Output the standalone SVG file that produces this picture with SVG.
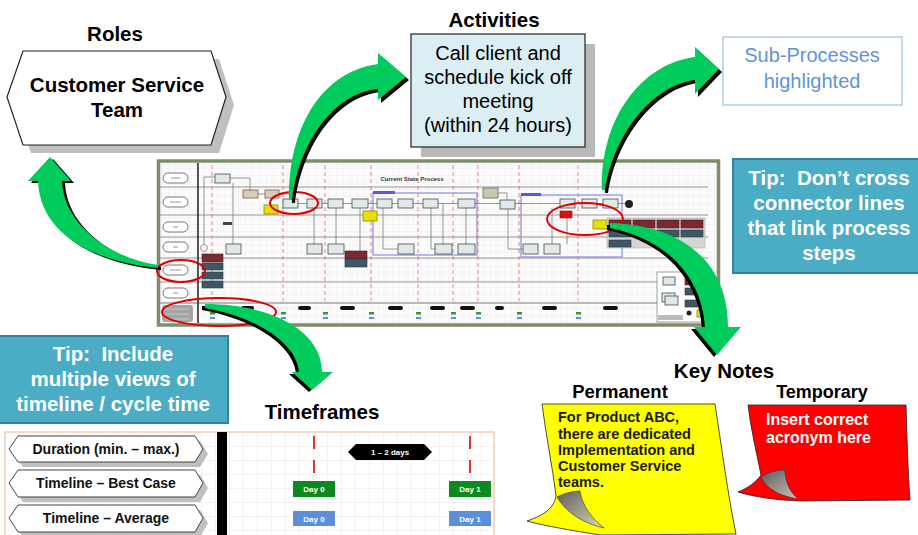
<svg xmlns="http://www.w3.org/2000/svg" width="918" height="535" viewBox="0 0 918 535">
  <style>
    text { font-family: "Liberation Sans", Arial, sans-serif; }
    .hdr { font-weight: bold; font-size: 20.5px; fill: #000; text-anchor: middle; }
    .act { font-size: 20px; fill: #000; text-anchor: middle; }
    .sub { font-size: 20px; fill: #5f93da; text-anchor: middle; }
    .tip { font-weight: bold; font-size: 20.5px; fill: #fff; text-anchor: middle; }
    .tipbox { fill: #4bacc6; stroke: #31849b; stroke-width: 2; }
    .hexlbl { font-weight: bold; font-size: 14px; fill: #111; text-anchor: middle; }
    .hexshape { fill: #fff; stroke: #444; stroke-width: 1; }
    .hexshadow { fill: #bfbfbf; }
    .day { font-weight: bold; font-size: 8px; fill: #fff; text-anchor: middle; }
    .perm { font-weight: bold; font-size: 14.5px; fill: #1a1a1a; }
    .temp { font-weight: bold; font-size: 16px; fill: #fff; }
    .arrow { fill: #00cc5c; }
    .arrow-sh { fill: #000; }
    .ring { fill: none; stroke: #e00000; stroke-width: 2; }
    .lane { stroke: #8a8a8a; stroke-width: 0.9; }
    .due { stroke: #e06464; stroke-width: 0.8; stroke-dasharray: 4 3; }
    .step { fill: #e2e8e8; stroke: #3f4f4f; stroke-width: 0.8; }
    .tan { fill: #dccbbb; stroke: #7a5a4a; stroke-width: 0.8; }
    .note { fill: #e8e000; stroke: #8a8a00; stroke-width: 0.8; }
    .dred { fill: #7c2a32; stroke: #4e1a1e; stroke-width: 0.6; }
    .dteal { fill: #3c5864; stroke: #25363e; stroke-width: 0.6; }
    .flow { fill: none; stroke: #6a6a6a; stroke-width: 0.7; }
    .pill { fill: #fff; stroke: #555; stroke-width: 0.8; }
    .blip { fill: #111; }
    .gmark { fill: #2e9a3a; }
    .bmark { fill: #5b8fd8; }
    .sub-box { fill: none; stroke: #8a8ae6; stroke-width: 1.2; }
  </style>
  <defs>
    <pattern id="mapGrid" width="7" height="7" patternUnits="userSpaceOnUse">
      <path d="M7 0 L0 0 0 7" fill="none" stroke="#e2e2e2" stroke-width="0.6"/>
    </pattern>
    <pattern id="tfGrid" width="14" height="14" patternUnits="userSpaceOnUse" x="5" y="432">
      <path d="M14 0 L0 0 0 14" fill="none" stroke="#e0e0e0" stroke-width="0.8"/>
    </pattern>
    <linearGradient id="foldY" x1="0" y1="0" x2="1" y2="1">
      <stop offset="0" stop-color="#5e5e5e"/>
      <stop offset="1" stop-color="#d8d8b8"/>
    </linearGradient>
    <linearGradient id="foldR" x1="0" y1="0" x2="1" y2="1">
      <stop offset="0" stop-color="#5a5a5a"/>
      <stop offset="1" stop-color="#d0c0c0"/>
    </linearGradient>
  </defs>

  <rect width="918" height="535" fill="#fff"/>

  <!-- Role -->
  <g id="role-node">
    <text class="hdr" x="115" y="41">Roles</text>
    <polygon class="hexshadow" points="15,105 31,59 219,59 234,105 219,153 31,153"/>
    <polygon fill="#fff" stroke="#222" stroke-width="1.2" points="7,97 23,51 211,51 226,97 211,145 23,145"/>
    <text class="hdr" x="117" y="92">Customer Service</text>
    <text class="hdr" x="117" y="117">Team</text>
  </g>

  <!-- Activity -->
  <g id="activity-node">
    <text class="hdr" x="494" y="27">Activities</text>
    <rect x="421" y="44" width="174" height="113" fill="#b8b8b8"/>
    <rect x="411" y="34" width="174" height="113" fill="#dbeef4" stroke="#222" stroke-width="1.2"/>
    <text class="act" x="498" y="60">Call client and</text>
    <text class="act" x="498" y="84">schedule kick off</text>
    <text class="act" x="498" y="108">meeting</text>
    <text class="act" x="498" y="132">(within 24 hours)</text>
  </g>

  <!-- Sub-process callout -->
  <g id="subprocess-node">
    <rect x="723" y="37" width="179" height="68" fill="#fff" stroke="#b6cdee" stroke-width="1.6"/>
    <text class="sub" x="812" y="62">Sub-Processes</text>
    <text class="sub" x="812" y="88">highlighted</text>
  </g>

  <!-- Tips -->
  <g id="tip-connectors">
    <rect class="tipbox" x="733" y="159" width="186" height="114"/>
    <text class="tip" x="829" y="185">Tip:&#160; Don’t cross</text>
    <text class="tip" x="829" y="210">connector lines</text>
    <text class="tip" x="829" y="235">that link process</text>
    <text class="tip" x="829" y="260">steps</text>
  </g>
  <g id="tip-timeline">
    <rect class="tipbox" x="-2" y="336" width="230" height="87"/>
    <text class="tip" x="113" y="361">Tip:&#160; Include</text>
    <text class="tip" x="113" y="386">multiple views of</text>
    <text class="tip" x="113" y="411">timeline / cycle time</text>
  </g>

  <!-- Process map thumbnail -->
  <g id="process-map">
    <rect x="158.5" y="161" width="560" height="164" fill="#fbfbfb"/>
    <rect x="158.5" y="161" width="560" height="164" fill="url(#mapGrid)"/>
    <text x="412" y="181" font-size="6px" font-weight="bold" fill="#333" text-anchor="middle">Current State Process</text>
    <!-- lanes -->
    <g>
      <line class="lane" x1="160" y1="187" x2="708" y2="187"/>
      <line class="lane" x1="160" y1="215" x2="708" y2="215"/>
      <line class="lane" x1="160" y1="237" x2="708" y2="237"/>
      <line class="lane" x1="160" y1="258" x2="708" y2="258"/>
      <line class="lane" x1="160" y1="282" x2="708" y2="282"/>
      <line x1="160" y1="303" x2="716" y2="303" stroke="#777" stroke-width="1"/>
      <line x1="198" y1="163" x2="198" y2="323" stroke="#111" stroke-width="1.4"/>
    </g>
    <!-- lane labels -->
    <g>
      <rect class="pill" x="163" y="173" width="25" height="10" rx="5"/>
      <rect class="pill" x="163" y="197" width="25" height="10" rx="5"/>
      <rect class="pill" x="163" y="222" width="25" height="10" rx="5"/>
      <rect class="pill" x="163" y="242" width="25" height="10" rx="5"/>
      <rect class="pill" x="163" y="265" width="25" height="10" rx="5"/>
      <rect class="pill" x="163" y="288" width="25" height="10" rx="5"/>
      <path d="M171 178h9M170 202h11M173 227h5M173 247h5M170 270h11M173 293h5" stroke="#999" stroke-width="1.2"/>
      <rect x="162" y="305" width="31" height="17" rx="3" fill="#a4a4a4"/>
      <path d="M165 309h24M165 314h24M165 319h24" stroke="#c8c8c8" stroke-width="1"/>
    </g>
    <!-- due-date markers -->
    <g>
      <line class="due" x1="212" y1="165" x2="212" y2="301"/>
      <line class="due" x1="283" y1="165" x2="283" y2="301"/>
      <line class="due" x1="325" y1="165" x2="325" y2="301"/>
      <line class="due" x1="371" y1="165" x2="371" y2="301"/>
      <line class="due" x1="418" y1="165" x2="418" y2="301"/>
      <line class="due" x1="453" y1="165" x2="453" y2="301"/>
      <line class="due" x1="478" y1="165" x2="478" y2="301"/>
      <line class="due" x1="519" y1="165" x2="519" y2="301"/>
      <line class="due" x1="578" y1="165" x2="578" y2="301"/>
    </g>
    <!-- sub-process frames -->
    <rect class="sub-box" x="373" y="193" width="104" height="62"/>
    <rect x="373" y="191" width="22" height="3" fill="#5a5ae0"/>
    <rect class="sub-box" x="521" y="195" width="101" height="62"/>
    <rect x="521" y="193" width="20" height="3" fill="#5a5ae0"/>
    <!-- flow lines -->
    <path class="flow" d="M204 177H215M204 177V244.5M233 183V244M230 178H250V190M258 194H265M279 194H290V199M298 203.5H629M314 208V244M336 208V244M360 208V251M383 208V249H398M431 208V249H435M443 203V250M466 208V244M490 193H507V200M508 208V249H523M552 208V244M567 218V244"/>
    <!-- steps -->
    <g>
      <rect class="step" x="215" y="174" width="15" height="9"/>
      <rect class="tan" x="243" y="190" width="15" height="8"/>
      <rect class="tan" x="265" y="190" width="14" height="8"/>
      <rect class="step" x="283" y="199" width="15" height="9"/>
      <rect class="step" x="307" y="199" width="15" height="9"/>
      <rect class="step" x="328" y="199" width="15" height="9"/>
      <rect class="step" x="352" y="199" width="16" height="9"/>
      <rect class="step" x="377" y="199" width="15" height="9"/>
      <rect class="step" x="398" y="199" width="15" height="9"/>
      <rect class="step" x="423" y="199" width="15" height="9"/>
      <rect class="step" x="458" y="199" width="17" height="9"/>
      <rect x="483" y="188" width="15" height="10" fill="#c9c9b0" stroke="#6a6a50" stroke-width="0.8"/>
      <rect class="step" x="500" y="200" width="15" height="9"/>
      <rect class="step" x="560" y="199" width="15" height="9"/>
      <rect class="step" x="582" y="199" width="15" height="9"/>
      <rect class="step" x="603" y="199" width="15" height="9"/>
      <circle cx="629" cy="204" r="4" fill="#222"/>
      <rect x="223" y="222" width="9" height="3" fill="#444"/>
      <rect class="step" x="226" y="244" width="15" height="10"/>
      <rect class="step" x="307" y="244" width="15" height="10"/>
      <rect class="step" x="328" y="244" width="16" height="10"/>
      <rect class="step" x="398" y="244" width="16" height="10"/>
      <rect class="step" x="435" y="244" width="17" height="10"/>
      <rect class="step" x="458" y="244" width="17" height="10"/>
      <rect class="step" x="523" y="244" width="15" height="10"/>
      <rect class="step" x="544" y="244" width="16" height="10"/>
      <circle cx="204" cy="248" r="3.5" fill="#fff" stroke="#a07090" stroke-width="0.8"/>
      <rect class="note" x="264" y="205" width="14" height="9"/>
      <rect class="note" x="363" y="211" width="14" height="10"/>
      <rect x="560" y="211" width="12" height="7" fill="#e01010" stroke="#900" stroke-width="0.6"/>
      <rect class="note" x="593" y="220" width="14" height="9"/>
      <rect class="dred" x="202" y="254" width="21" height="8"/>
      <rect class="dteal" x="202" y="263" width="21" height="7"/>
      <rect class="dteal" x="202" y="272" width="21" height="7"/>
      <rect class="dteal" x="202" y="281" width="21" height="7"/>
      <rect class="dred" x="345" y="251" width="22" height="8"/>
      <rect class="dteal" x="345" y="259" width="22" height="8"/>
    </g>
    <!-- notes legend -->
    <g>
      <rect x="607" y="218" width="98" height="30" fill="#d4d4d4" stroke="#aaa" stroke-width="0.6"/>
      <rect class="dred" x="609" y="220" width="22" height="8"/>
      <rect class="dred" x="633" y="220" width="22" height="8"/>
      <rect class="dred" x="657" y="220" width="22" height="8"/>
      <rect class="dred" x="681" y="220" width="22" height="8"/>
      <rect class="dteal" x="609" y="230" width="22" height="7"/>
      <rect class="dteal" x="633" y="230" width="22" height="7"/>
      <rect class="dteal" x="657" y="230" width="22" height="7"/>
      <rect class="dteal" x="681" y="230" width="22" height="7"/>
      <rect class="dteal" x="609" y="240" width="22" height="7"/>
    </g>
    <!-- symbol legend -->
    <g>
      <rect x="657" y="272" width="51" height="50" fill="#fff" stroke="#888" stroke-width="0.8"/>
      <rect class="step" x="663" y="277" width="12" height="8"/>
      <rect class="step" x="662" y="293" width="13" height="9"/>
      <rect class="step" x="665" y="296" width="13" height="9"/>
      <rect class="dred" x="685" y="277" width="22" height="8"/>
      <rect class="dteal" x="685" y="288" width="22" height="7"/>
      <rect class="dteal" x="685" y="300" width="22" height="7"/>
      <circle cx="689" cy="313" r="2.5" fill="#222"/>
      <rect class="note" x="697" y="310" width="10" height="7"/>
      <rect x="658" y="315" width="25" height="5" fill="#bbb"/>
    </g>
    <!-- timeline row -->
    <g>
      <rect class="blip" x="241" y="306" width="13" height="4" rx="2"/>
      <rect class="blip" x="298" y="306" width="13" height="4" rx="2"/>
      <rect class="blip" x="340" y="306" width="15" height="4" rx="2"/>
      <rect class="blip" x="388" y="306" width="15" height="4" rx="2"/>
      <rect class="blip" x="430" y="306" width="15" height="4" rx="2"/>
      <rect class="blip" x="460" y="306" width="15" height="4" rx="2"/>
      <rect class="blip" x="495" y="306" width="9" height="4" rx="2"/>
      <rect class="blip" x="542" y="306" width="15" height="4" rx="2"/>
      <rect class="blip" x="603" y="306" width="15" height="4" rx="2"/>
      <g>
        <rect class="gmark" x="210" y="312" width="5" height="2.5"/><rect class="bmark" x="210" y="317" width="5" height="2"/>
        <rect class="gmark" x="281" y="312" width="5" height="2.5"/><rect class="bmark" x="281" y="317" width="5" height="2"/>
        <rect class="gmark" x="323" y="312" width="5" height="2.5"/><rect class="bmark" x="323" y="317" width="5" height="2"/>
        <rect class="gmark" x="369" y="312" width="5" height="2.5"/><rect class="bmark" x="369" y="317" width="5" height="2"/>
        <rect class="gmark" x="416" y="312" width="5" height="2.5"/><rect class="bmark" x="416" y="317" width="5" height="2"/>
        <rect class="gmark" x="451" y="312" width="5" height="2.5"/><rect class="bmark" x="451" y="317" width="5" height="2"/>
        <rect class="gmark" x="476" y="312" width="5" height="2.5"/><rect class="bmark" x="476" y="317" width="5" height="2"/>
        <rect class="gmark" x="517" y="312" width="5" height="2.5"/><rect class="bmark" x="517" y="317" width="5" height="2"/>
        <rect class="gmark" x="576" y="312" width="5" height="2.5"/><rect class="bmark" x="576" y="317" width="5" height="2"/>
      </g>
    </g>
    <rect x="158.5" y="161" width="560" height="164" fill="none" stroke="#7e8d6c" stroke-width="3.5"/>
  </g>

  <!-- Highlight rings -->
  <g id="highlights">
    <ellipse class="ring" cx="294" cy="203" rx="24" ry="11"/>
    <ellipse class="ring" cx="181" cy="271" rx="24" ry="11"/>
    <ellipse class="ring" cx="219" cy="312" rx="57" ry="14"/>
    <ellipse class="ring" cx="585" cy="219" rx="38" ry="16"/>
  </g>

  <!-- Timeframes -->
  <g id="timeframes">
    <text class="hdr" x="322" y="419">Timeframes</text>
    <rect x="5" y="432" width="489" height="106" fill="#fff" stroke="#f6bf98" stroke-width="1.2"/>
    <rect x="5.6" y="432.6" width="488" height="105" fill="url(#tfGrid)"/>
    <rect x="217" y="432" width="10" height="106" fill="#000"/>
    <g>
      <polygon class="hexshadow" points="14,454 23,441 200,441 208,454 200,467 23,467"/>
      <polygon class="hexshape" points="9,449 18,436 195,436 203,449 195,462 18,462"/>
      <text class="hexlbl" x="106" y="454">Duration (min. – max.)</text>
      <polygon class="hexshadow" points="14,488 23,475 200,475 208,488 200,502 23,502"/>
      <polygon class="hexshape" points="9,483 18,470 195,470 203,483 195,497 18,497"/>
      <text class="hexlbl" x="106" y="488">Timeline – Best Case</text>
      <polygon class="hexshadow" points="14,523 23,510 200,510 208,523 200,537 23,537"/>
      <polygon class="hexshape" points="9,518 18,505 195,505 203,518 195,532 18,532"/>
      <text class="hexlbl" x="106" y="523">Timeline – Average</text>
    </g>
    <g>
      <path d="M314 436V449M314 460V473M470 436V449M470 460V473" stroke="#e03030" stroke-width="2"/>
      <polygon points="348,452 356,444 424,444 432,452 424,460 356,460" fill="#000"/>
      <text x="390" y="455" font-size="8px" font-weight="bold" fill="#fff" text-anchor="middle">1 – 2 days</text>
      <rect x="293" y="481" width="42" height="16" fill="#0b8a1f"/>
      <text class="day" x="314" y="492">Day 0</text>
      <rect x="449" y="481" width="42" height="16" fill="#0b8a1f"/>
      <text class="day" x="470" y="492">Day 1</text>
      <rect x="293" y="511" width="42" height="15" fill="#5b8fd8"/>
      <text class="day" x="314" y="521.5">Day 0</text>
      <rect x="449" y="511" width="42" height="15" fill="#5b8fd8"/>
      <text class="day" x="470" y="521.5">Day 1</text>
    </g>
  </g>

  <!-- Key notes -->
  <g id="key-notes">
    <text class="hdr" x="724" y="378">Key Notes</text>
    <g id="permanent-note">
      <text x="620" y="398" font-size="18.5px" font-weight="bold" text-anchor="middle">Permanent</text>
      <path d="M542 404L715 404C722 450 728 495 736 534L600 535C575 531 545 526 527 521C545 515 555 507 556 495C552 465 546 435 542 404Z" fill="#ffff00" stroke="#222" stroke-width="0.8"/>
      <path d="M557 497C565 493 574 491 580 491C582 505 592 519 604 528C585 524 566 513 557 497Z" fill="url(#foldY)" stroke="#333" stroke-width="0.6"/>
      <text class="perm" x="558" y="422">For Product ABC,</text>
      <text class="perm" x="558" y="439">there are dedicated</text>
      <text class="perm" x="558" y="455">Implementation and</text>
      <text class="perm" x="558" y="471">Customer Service</text>
      <text class="perm" x="558" y="487">teams.</text>
    </g>
    <g id="temporary-note">
      <text x="822" y="398" font-size="18px" font-weight="bold" text-anchor="middle">Temporary</text>
      <path d="M748 405L906 405C907 440 908 470 910 500L800 501C775 500 755 497 738 492C748 488 756 482 761 475C756 450 751 430 748 405Z" fill="#ff0000" stroke="#222" stroke-width="0.8"/>
      <path d="M761 477C768 472 777 470 785 470C785 482 790 492 798 499C780 496 766 489 761 477Z" fill="url(#foldR)" stroke="#333" stroke-width="0.6"/>
      <text class="temp" x="766" y="425">Insert correct</text>
      <text class="temp" x="766" y="443">acronym here</text>
    </g>
  </g>

  <!-- Pointer arrows -->
  <g id="connectors">
    <g id="arrow-role">
      <path class="arrow-sh" transform="translate(3,2)" d="M158 268C95 262 40 235 38 181L28 181L50 157L71 181L62 181C64 225 110 258 158 265Z"/>
      <path class="arrow" d="M158 268C95 262 40 235 38 181L28 181L50 157L71 181L62 181C64 225 110 258 158 265Z"/>
    </g>
    <g id="arrow-activity">
      <path class="arrow-sh" transform="translate(3,3)" d="M289 200C288 130 320 72 378 64L378 53L406 77L378 100L378 89C335 93 300 140 292 200Z"/>
      <path class="arrow" d="M289 200C288 130 320 72 378 64L378 53L406 77L378 100L378 89C335 93 300 140 292 200Z"/>
    </g>
    <g id="arrow-subprocess">
      <path class="arrow-sh" transform="translate(3,3)" d="M602 190C600 120 640 64 695 57L695 47L719 69L695 94L695 80C655 85 615 130 605 190Z"/>
      <path class="arrow" d="M602 190C600 120 640 64 695 57L695 47L719 69L695 94L695 80C655 85 615 130 605 190Z"/>
    </g>
    <g id="arrow-notes">
      <path class="arrow-sh" transform="translate(-3,2)" d="M610 223C680 225 728 260 728 327L741 327L717 355L694 327L705 327C702 280 670 240 610 228Z"/>
      <path class="arrow" d="M610 223C680 225 728 260 728 327L741 327L717 355L694 327L705 327C702 280 670 240 610 228Z"/>
    </g>
    <g id="arrow-timeframes">
      <path class="arrow-sh" transform="translate(-3,2)" d="M205 304C270 304 322 330 322 372L333 372L312 390L292 372L299 372C297 345 260 318 205 308Z"/>
      <path class="arrow" d="M205 304C270 304 322 330 322 372L333 372L312 390L292 372L299 372C297 345 260 318 205 308Z"/>
    </g>
  </g>
</svg>
